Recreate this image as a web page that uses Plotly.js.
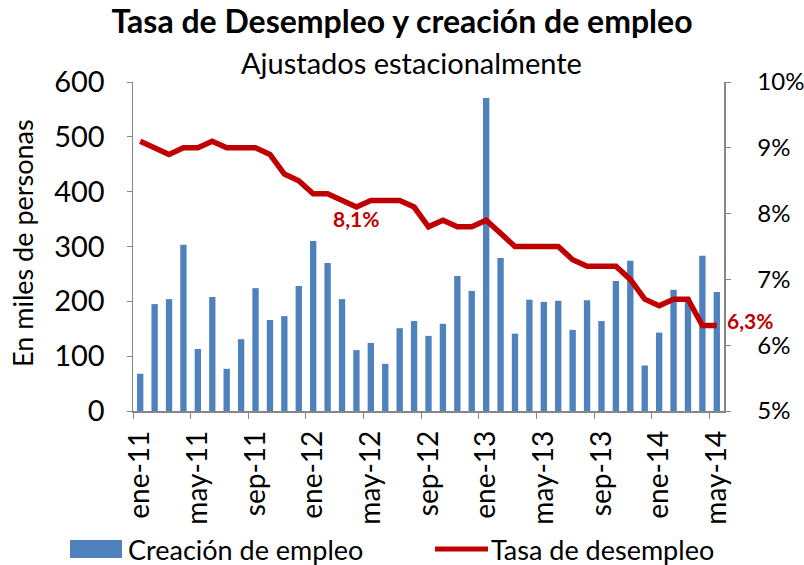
<!DOCTYPE html>
<html><head><meta charset="utf-8">
<script src="https://cdn.plot.ly/plotly-3.0.1.min.js"></script>
<style>html,body{margin:0;padding:0;background:#fff;}#chart{width:804px;height:565px;}</style>
</head><body><div id="chart"></div>
<script>
const months = ["ene-11","feb-11","mar-11","abr-11","may-11","jun-11","jul-11","ago-11","sep-11","oct-11","nov-11","dic-11",
"ene-12","feb-12","mar-12","abr-12","may-12","jun-12","jul-12","ago-12","sep-12","oct-12","nov-12","dic-12",
"ene-13","feb-13","mar-13","abr-13","may-13","jun-13","jul-13","ago-13","sep-13","oct-13","nov-13","dic-13",
"ene-14","feb-14","mar-14","abr-14","may-14"];
const empleo = [68,195,204,303,113,208,77,131,224,166,173,228,
310,270,204,111,124,86,151,164,137,159,246,219,
571,279,141,203,199,201,148,202,164,237,274,83,
143,221,207,283,217];
const desempleo = [9.1,9.0,8.9,9.0,9.0,9.1,9.0,9.0,9.0,8.9,8.6,8.5,
8.3,8.3,8.2,8.1,8.2,8.2,8.2,8.1,7.8,7.9,7.8,7.8,
7.9,7.7,7.5,7.5,7.5,7.5,7.3,7.2,7.2,7.2,7.0,6.7,
6.6,6.7,6.7,6.3,6.3];
const seriesNames = ['Creación de empleo','Tasa de desempleo'];
const labelIdx = [15, 40];

const idx = months.map((m,i)=>i);
const tickIdx = idx.filter(i=>i%4===0);
const F = "Lato, 'Open Sans', sans-serif";
const fmt = v => v.toFixed(1).replace('.', ',') + '%';
const BLUE = '#4F81BD', RED = '#C00000';

const traces = [
 {type:'bar', x: idx, y: empleo, name:seriesNames[0], marker:{color:BLUE}, yaxis:'y', hoverinfo:'skip'},
 {type:'scatter', mode:'lines', x: idx, y: desempleo, name:seriesNames[1], line:{color:RED, width:5.5}, yaxis:'y2', hoverinfo:'skip'}
];

const W = 804, H = 565, ML = 133, MR = 80, MT = 82, MB = 154;
const PW = W-ML-MR, PH = H-MT-MB;
const px = x => (x-ML)/PW;           // pixel -> paper x
const py = y => (H-MB-y)/PH;         // pixel -> paper y

const axisCol = '#868686';
const layout = {
 width:W, height:H,
 margin:{l:ML, r:MR, t:MT, b:MB},
 paper_bgcolor:'#fff', plot_bgcolor:'#fff',
 font:{family:F, color:'#000', size:22},
 bargap:0.56,
 showlegend:false,
 title:{text:'<b>Tasa de Desempleo y creación de empleo</b>', x:402/W, xanchor:'center', y:1-22/H, yanchor:'middle', font:{size:32, family:F}},
 xaxis:{range:[-0.5,40.5], tickvals: tickIdx, ticktext: tickIdx.map(i=>months[i]), tickangle:-90, ticks:'',
   automargin:false, ticklabelstandoff:7,
   showline:true, linecolor:axisCol, linewidth:1.5, showgrid:false, zeroline:false, tickfont:{size:28},
   minor:{tick0:-0.5, dtick:4, ticks:'outside', ticklen:6, tickcolor:axisCol, showgrid:false}},
 yaxis:{range:[0,600], dtick:100, showline:true, linecolor:axisCol, linewidth:1.5, ticks:'outside', ticklen:5, tickcolor:axisCol,
   automargin:false, ticklabelstandoff:16,
   showgrid:false, zeroline:false, tickfont:{size:29}},
 yaxis2:{range:[5,10], dtick:1, overlaying:'y', side:'right', ticksuffix:'%', showline:true, linecolor:axisCol, linewidth:1.5,
   automargin:false, ticklabelstandoff:22,
   ticks:'outside', ticklen:5, tickcolor:axisCol, showgrid:false, zeroline:false, tickfont:{size:24}},
 shapes:[
  {type:'rect', xref:'paper', yref:'paper', x0:px(70), x1:px(122), y0:py(558), y1:py(540), fillcolor:BLUE, line:{width:0}},
  {type:'line', xref:'paper', yref:'paper', x0:px(435), x1:px(488), y0:py(549), y1:py(549), line:{color:RED, width:5}}
 ],
 annotations:[
  {text:'Ajustados estacionalmente', xref:'paper', yref:'paper', x:px(411), y:py(63), yanchor:'middle', xanchor:'center', showarrow:false, font:{size:29, family:F}},
  {text:'En miles de personas', xref:'paper', yref:'paper', x:px(22), y:py(243), textangle:-90, xanchor:'center', yanchor:'middle', showarrow:false, font:{size:27, family:F}},
  {text:seriesNames[0], xref:'paper', yref:'paper', x:px(126), y:py(549), xanchor:'left', yanchor:'middle', showarrow:false, font:{size:27, family:F}},
  {text:seriesNames[1], xref:'paper', yref:'paper', x:px(489), y:py(549), xanchor:'left', yanchor:'middle', showarrow:false, font:{size:27, family:F}},
  {text:'<b>'+fmt(desempleo[labelIdx[0]])+'</b>', xref:'x', yref:'y2', x:labelIdx[0], y:desempleo[labelIdx[0]], yanchor:'top', xanchor:'center', yshift:3, showarrow:false, font:{size:21, color:RED, family:F}},
  {text:'<b>'+fmt(desempleo[labelIdx[1]])+'</b>', xref:'x', yref:'y2', x:labelIdx[1], y:desempleo[labelIdx[1]], yanchor:'middle', xanchor:'left', xshift:8, yshift:5, showarrow:false, font:{size:21, color:RED, family:F}}
 ]
};
Plotly.newPlot('chart', traces, layout, {staticPlot:true});
</script></body></html>
